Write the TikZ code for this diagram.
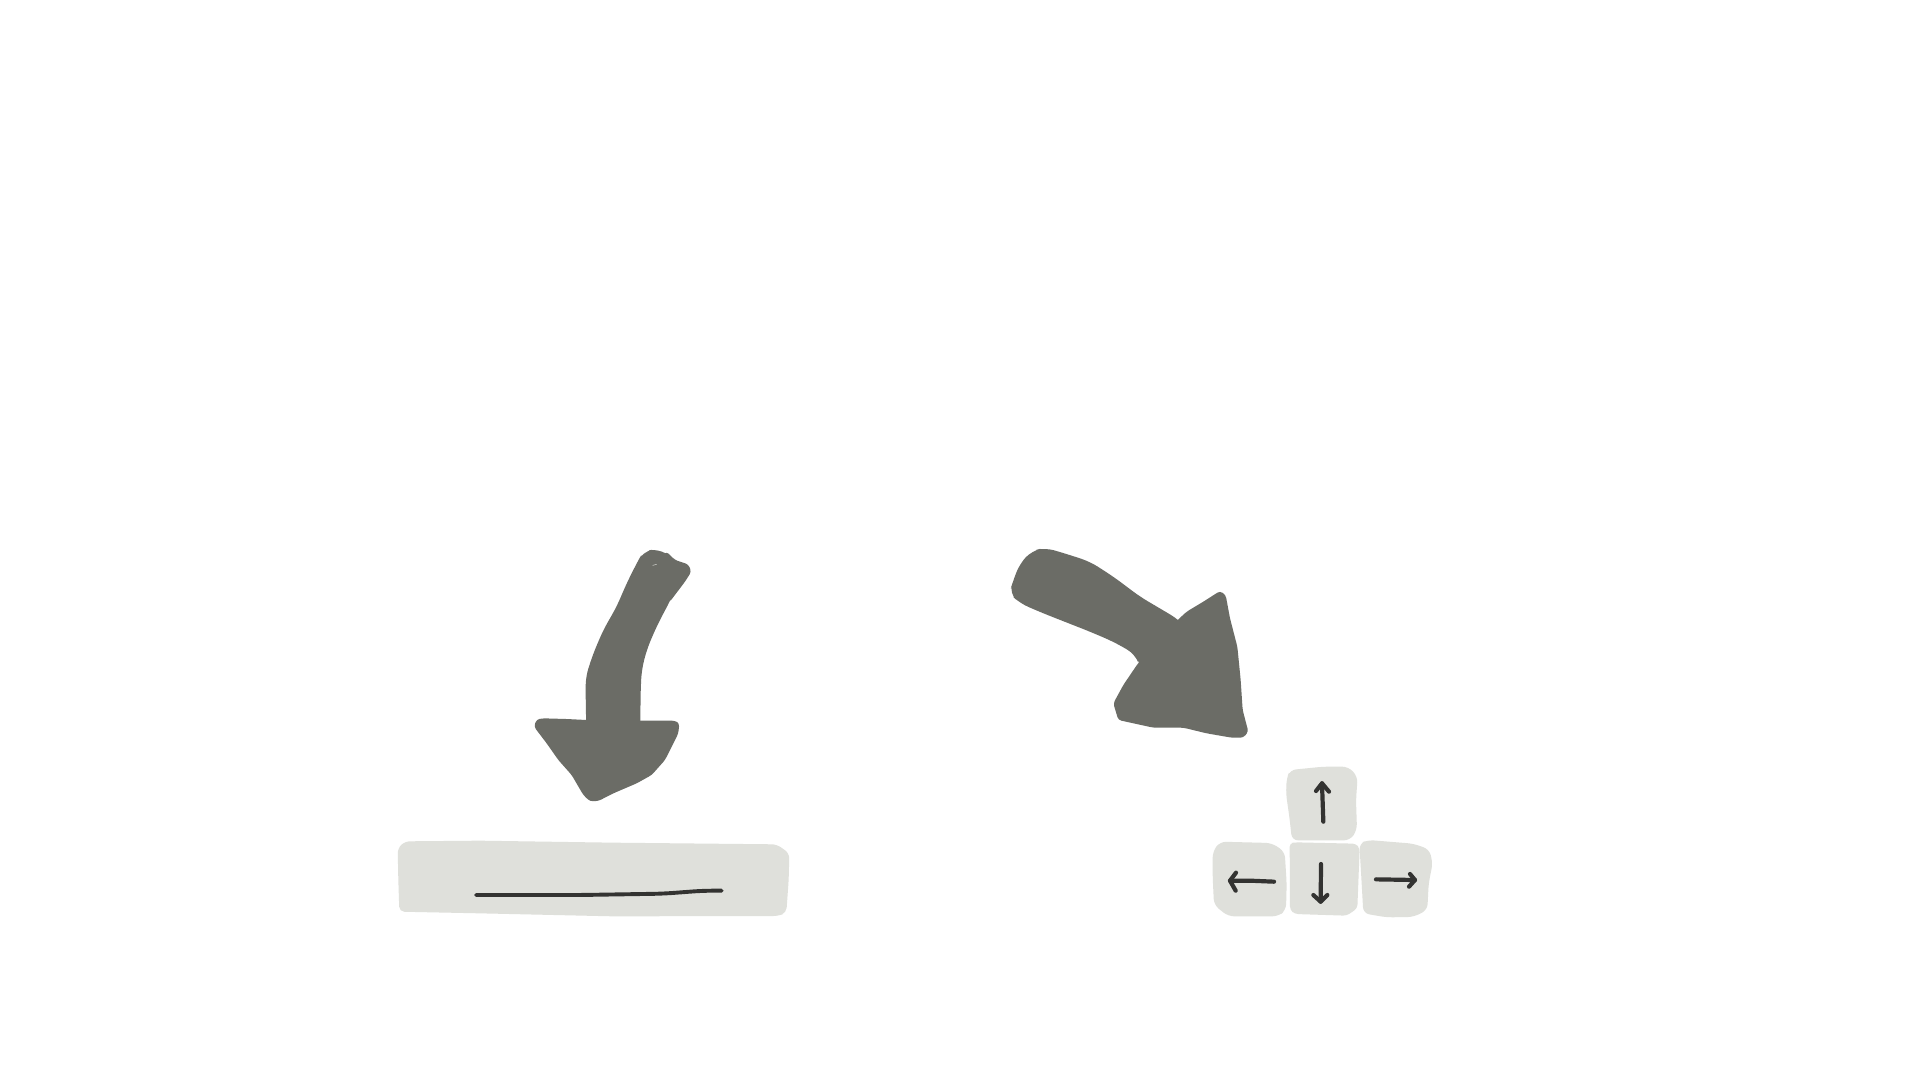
\documentclass[tikz,border=0pt]{standalone}
\definecolor{arrowgrey}{HTML}{6B6C66}
\definecolor{keygrey}{HTML}{DFE0DB}
\definecolor{inkdark}{HTML}{333331}
\tikzset{
  zoomA/.style={x=0.33333pt,y=-0.33333pt,shift={(380pt,-530pt)}},
  zoomB/.style={x=0.33333pt,y=-0.33333pt,shift={(1000pt,-530pt)}},
  zoomC/.style={x=0.33333pt,y=-0.33333pt,shift={(1200pt,-750pt)}},
  bigshaft/.style={fill=arrowgrey,draw=none,rounded corners=9pt},
  bighead/.style={fill=arrowgrey,draw=none,rounded corners=3pt},
  barcap/.style={fill=keygrey,draw=none,rounded corners=5pt},
  keycap/.style={fill=keygrey,draw=none,rounded corners=6pt},
  ink/.style={draw=inkdark,line width=4.2pt,line cap=round,line join=round},
  inkthin/.style={draw=inkdark,line width=3.9pt,line cap=round,line join=round,rounded corners=10pt}
}
\begin{document}
\begin{tikzpicture}
\useasboundingbox (0,0) rectangle (1920pt,-1080pt);
\fill[white] (0,0) rectangle (1920pt,-1080pt);
\begin{scope}[zoomA]
  \fill[bigshaft] (790,64) -- (835,56) -- (880,85) -- (895,150) -- (872,210) -- (850,250) -- (825,300) -- (800,360) -- (785,420) -- (782,480) -- (780,660) -- (620,660) -- (617,500) -- (617,440) -- (640,370) -- (670,300) -- (710,230) -- (740,160) -- (770,100) -- cycle;
  \fill[bighead] (860,65) -- (885,90) -- (925,103) -- (934,125) -- (915,155) -- (868,217) -- (830,180) -- (830,90) -- cycle;
  \fill[bighead] (780,572) -- (885,572) -- (898,580) -- (895,610) -- (855,690) -- (815,735) -- (770,760) -- (700,790) -- (655,813) -- (630,814) -- (610,795) -- (575,735) -- (535,690) -- (500,640) -- (462,590) -- (470,568) -- (490,565) -- (560,567) -- (620,570) -- cycle;
  \draw[keygrey,line width=0.5pt] (818,106) -- (830,103);
  \fill[barcap] (53,955) -- (75,934) -- (300,932) -- (700,938) -- (1190,943) -- (1228,970) -- (1226,1050) -- (1219,1148) -- (1195,1158) -- (700,1159) -- (300,1150) -- (58,1145) -- (55,1050) -- cycle;
  \draw[inkthin] (288,1095) -- (600,1095) -- (850,1091) -- (970,1082) -- (1025,1082);
\end{scope}
\begin{scope}[zoomB]
  \fill[bigshaft] (28,190) -- (40,150) -- (60,100) -- (95,63) -- (135,53) -- (200,72) -- (270,95) -- (340,140) -- (420,200) -- (535,268) -- (640,380) -- (500,480) -- (418,405) -- (405,372) -- (340,335) -- (270,305) -- (130,250) -- (60,220) -- cycle;
  \fill[bighead] (535,268) -- (560,245) -- (610,215) -- (660,183) -- (677,195) -- (690,265) -- (712,350) -- (722,450) -- (728,540) -- (745,605) -- (730,623) -- (695,623) -- (620,610) -- (550,593) -- (460,593) -- (355,570) -- (340,520) -- (370,465) -- (414,400) -- (480,330) -- cycle;
\end{scope}
\begin{scope}[zoomC]
  \fill[keycap] (260,85) -- (270,60) -- (370,50) -- (445,50) -- (473,80) -- (468,150) -- (471,240) -- (450,271) -- (276,271) -- (268,200) -- (258,130) -- cycle;
  \fill[keycap] (38,305) -- (60,275) -- (215,279) -- (254,305) -- (260,400) -- (258,480) -- (235,499) -- (85,499) -- (42,465) -- (38,380) -- cycle;
  \fill[keycap,rounded corners=3.5pt] (269,280) -- (285,277) -- (468,281) -- (479,295) -- (472,475) -- (440,497) -- (285,492) -- (270,480) -- cycle;
  \fill[keycap] (478,280) -- (505,270) -- (640,281) -- (688,298) -- (698,340) -- (686,400) -- (682,480) -- (640,501) -- (560,502) -- (490,490) -- (485,400) -- cycle;
  \draw[ink] (370,215) -- (366,100);
  \draw[ink] (348,123) -- (366,100) -- (387,125);
  \draw[ink] (222,395) -- (150,392) -- (90,392);
  \draw[ink] (108,368) -- (90,392) -- (107,422);
  \draw[ink] (363,342) -- (362,455);
  \draw[ink] (340,435) -- (362,455) -- (382,435);
  \draw[ink] (528,388) -- (645,390);
  \draw[ink] (630,372) -- (645,390) -- (627,410);
\end{scope}
\end{tikzpicture}
\end{document}
